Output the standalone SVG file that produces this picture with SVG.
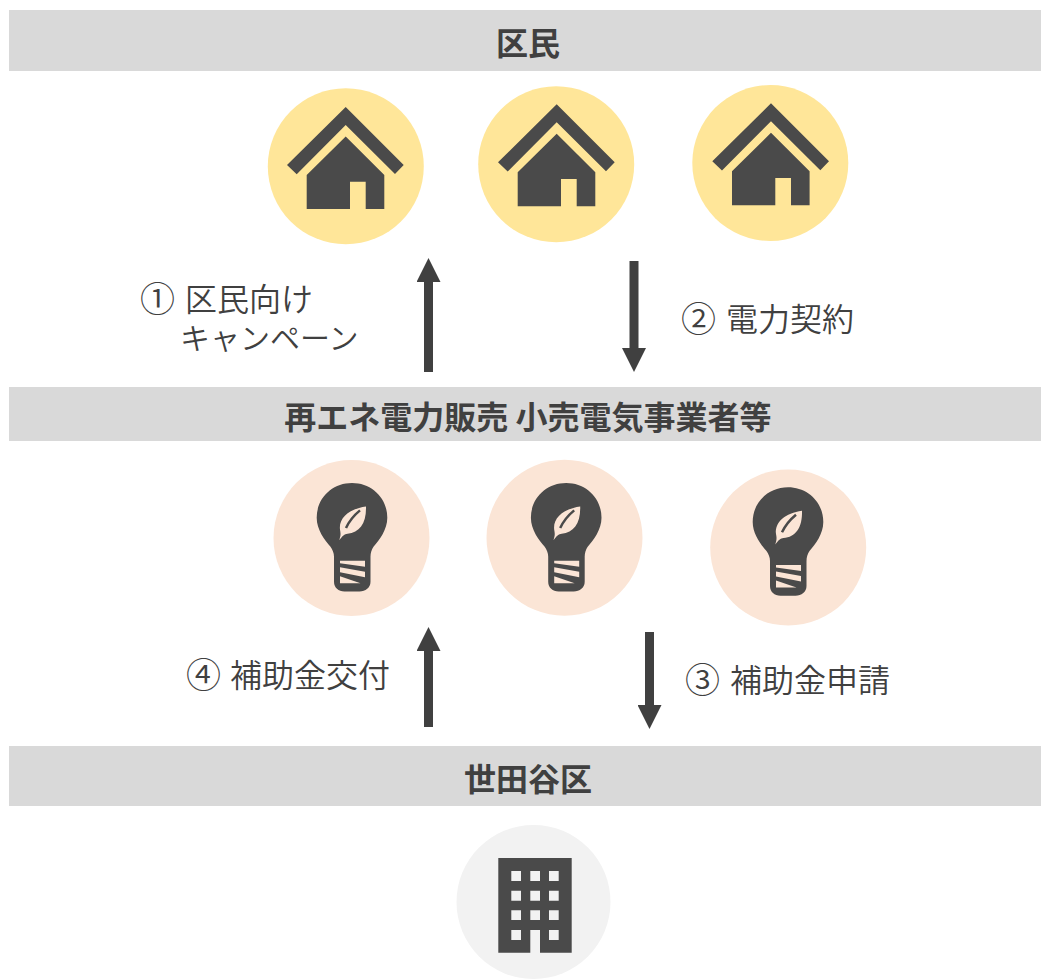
<svg xmlns="http://www.w3.org/2000/svg" width="1041" height="979" viewBox="0 0 1041 979">
<style>
.bar{fill:#d9d9d9}
.h{font-family:"Noto Sans CJK JP","Noto Sans",sans-serif;font-weight:700;font-size:32px;fill:#404040;text-anchor:middle}
.l{font-family:"Noto Sans CJK JP","Noto Sans",sans-serif;font-weight:350;font-size:32px;fill:#404040}
.n{font-family:"Noto Sans CJK JP","Noto Sans",sans-serif;font-weight:350;font-size:35px;fill:#404040}
.ic{fill:#4a4a4a}
.y{fill:#ffe699}
.p{fill:#fbe5d6}
.c{stroke:#404040;stroke-width:9;fill:none;marker-end:url(#ah)}
</style>
<defs>
<marker id="ah" markerUnits="userSpaceOnUse" markerWidth="24" markerHeight="24" refX="0" refY="12" orient="auto"><path d="M0 0L24 12L0 24Z" fill="#404040"/></marker>
<g id="house">
<path class="ic" d="M0.200-58.500L58.200-0.500L49.500 8.500L0.200-40.500L-48.800 8.800L-58.500-0.500Z"/>
<path class="ic" d="M0.200-29L38.800 9.500V43.500H20.200V16.200H4.500V43.500H-38.800V9.500Z"/>
</g>
<g id="bulb">
<path class="ic" d="M0.500-54.700C20-54.700 35.800-40 35.800-20C35.800-8 28 2 22 9C20 12 19 15 19 19V44C19 50 14 53.700 8 53.700H-7C-13 53.700-17.500 50-17.500 44V19C-17.500 15-19 12-21 9C-27 2-34.800-8-34.800-20C-34.800-40-19-54.700 0.500-54.700Z"/>
<path class="p" d="M14.500-31.300C15-14 8-5-4-4C-7-3.500-9-2-12.200 2.500C-11-2-10.500-3-11.500-8C-13-20-2-29 14.500-31.300Z"/>
<path d="M8.500-27.300C2-22-3-15-5.500-9.700" stroke="#4a4a4a" stroke-width="2.500" fill="none"/>
<path class="p" d="M-11.500 23H13.500V29L-11.500 25.500ZM-11.500 29.500L13.500 34V39.500L-11.500 34.500ZM-11.500 38.500L9 45.500H-11.500Z"/>
</g>
</defs>
<g id="band-kumin"><rect class="bar" x="9" y="10" width="1032" height="61"/><text class="h" x="528" y="55">区民</text></g>
<g id="band-retail"><rect class="bar" x="9" y="387" width="1032" height="54"/><text class="h" x="528" y="429">再エネ電力販売 小売電気事業者等</text></g>
<g id="band-setagaya"><rect class="bar" x="9" y="746" width="1032" height="60"/><text class="h" x="528" y="791">世田谷区</text></g>
<g id="house1"><circle class="y" cx="345.800" cy="166.300" r="78"/><use href="#house" x="345.500" y="165.500"/></g>
<g id="house2"><circle class="y" cx="556.200" cy="164.300" r="78"/><use href="#house" x="556.500" y="162.800"/></g>
<g id="house3"><circle class="y" cx="770.300" cy="163" r="78"/><use href="#house" x="770.800" y="161.800"/></g>
<g id="bulb1"><circle class="p" cx="351.500" cy="538" r="78"/><use href="#bulb" x="351.500" y="537.700"/></g>
<g id="bulb2"><circle class="p" cx="564.500" cy="537.800" r="78"/><use href="#bulb" x="565.700" y="537.700"/></g>
<g id="bulb3"><circle class="p" cx="788.200" cy="547.500" r="78"/><use href="#bulb" x="787.500" y="542"/></g>
<g id="office">
<circle cx="533.500" cy="902" r="77" fill="#f2f2f2"/>
<path class="ic" fill-rule="evenodd" d="M498.300 858H571.700V952.700H540V930H530.300V952.700H498.300ZM511.300 871V881H521V871ZM530.300 871V881H540V871ZM549 871V881H558.700V871ZM511.300 890.700V900.700H521V890.700ZM530.300 890.700V900.700H540V890.700ZM549 890.700V900.700H558.700V890.700ZM511.300 910.300V920H521V910.300ZM530.300 910.300V920H540V910.300ZM549 910.300V920H558.700V910.300ZM511.300 930V940H521V930ZM549 930V940H558.700V930Z"/>
</g>
<g id="connectors">
<path class="c" d="M428.500 372V282"/>
<path class="c" d="M634 261V348"/>
<path class="c" d="M428.500 727V651"/>
<path class="c" d="M649.500 632V705"/>
</g>
<g id="labels">
<text class="n" x="140" y="312">①</text><text class="l" x="185" y="311">区民向け</text>
<text class="l" x="180" y="349" style="font-size:30px">キャンペーン</text>
<text class="n" x="681" y="332">②</text><text class="l" x="726" y="331">電力契約</text>
<text class="n" x="186" y="688">④</text><text class="l" x="230" y="687">補助金交付</text>
<text class="n" x="685" y="693">③</text><text class="l" x="730" y="692">補助金申請</text>
</g>
</svg>
